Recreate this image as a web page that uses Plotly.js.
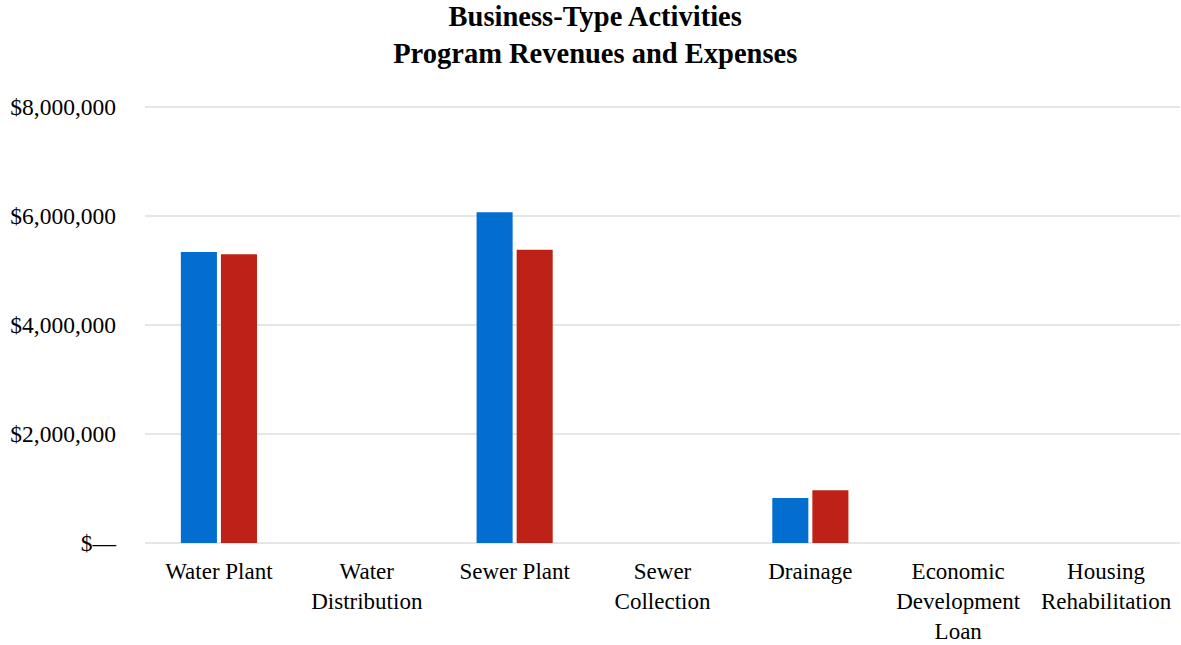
<!DOCTYPE html>
<html>
<head>
<meta charset="utf-8">
<script src="https://cdn.plot.ly/plotly-3.0.1.min.js"></script>
<style>html,body{margin:0;padding:0;background:#fff;}#chart{width:1181px;height:645px;}</style>
</head>
<body>
<div id="chart"></div>
<script>
var categories = ["Water Plant", "Water<br>Distribution", "Sewer Plant", "Sewer<br>Collection", "Drainage", "Economic<br>Development<br>Loan", "Housing<br>Rehabilitation"];
var revenues = [5340000, 0, 6070000, 0, 826000, 0, 0];
var expenses = [5300000, 0, 5380000, 0, 970000, 0, 0];
var tickVals = [0, 2000000, 4000000, 6000000, 8000000];
var tickText = ["$—", "$2,000,000", "$4,000,000", "$6,000,000", "$8,000,000"];

var font = "Liberation Serif, Times New Roman, serif";
var data = [
  {type: "bar", name: "Program Revenues", x: categories, y: revenues, marker: {color: "#046dd0"}, hoverinfo: "none"},
  {type: "bar", name: "Expenses", x: categories, y: expenses, marker: {color: "#be2217"}, hoverinfo: "none"}
];
var layout = {
  width: 1181, height: 645,
  margin: {l: 145, r: 1, t: 105, b: 100},
  paper_bgcolor: "#fff", plot_bgcolor: "#fff",
  showlegend: false,
  barmode: "group", bargap: 0.458, bargroupgap: 0.1,
  title: {text: "<b>Business-Type Activities<br>Program Revenues and Expenses</b>", x: 0.504, xref: "container", y: 0.959, yref: "container", yanchor: "top", font: {family: font, size: 28.5, color: "#000"}},
  xaxis: {tickfont: {family: font, size: 23, color: "#000"}, showgrid: false, zeroline: false, showline: false, ticks: "", ticklabelstandoff: 10},
  yaxis: {range: [-36697, 8036697], tickvals: tickVals, ticktext: tickText, tickfont: {family: font, size: 23.5, color: "#000"},
          showgrid: true, gridcolor: "#e6e6e6", gridwidth: 2, zeroline: false, showline: false, ticks: "", ticklabelstandoff: 28}
};
Plotly.newPlot("chart", data, layout, {displayModeBar: false, staticPlot: true});
</script>
</body>
</html>
